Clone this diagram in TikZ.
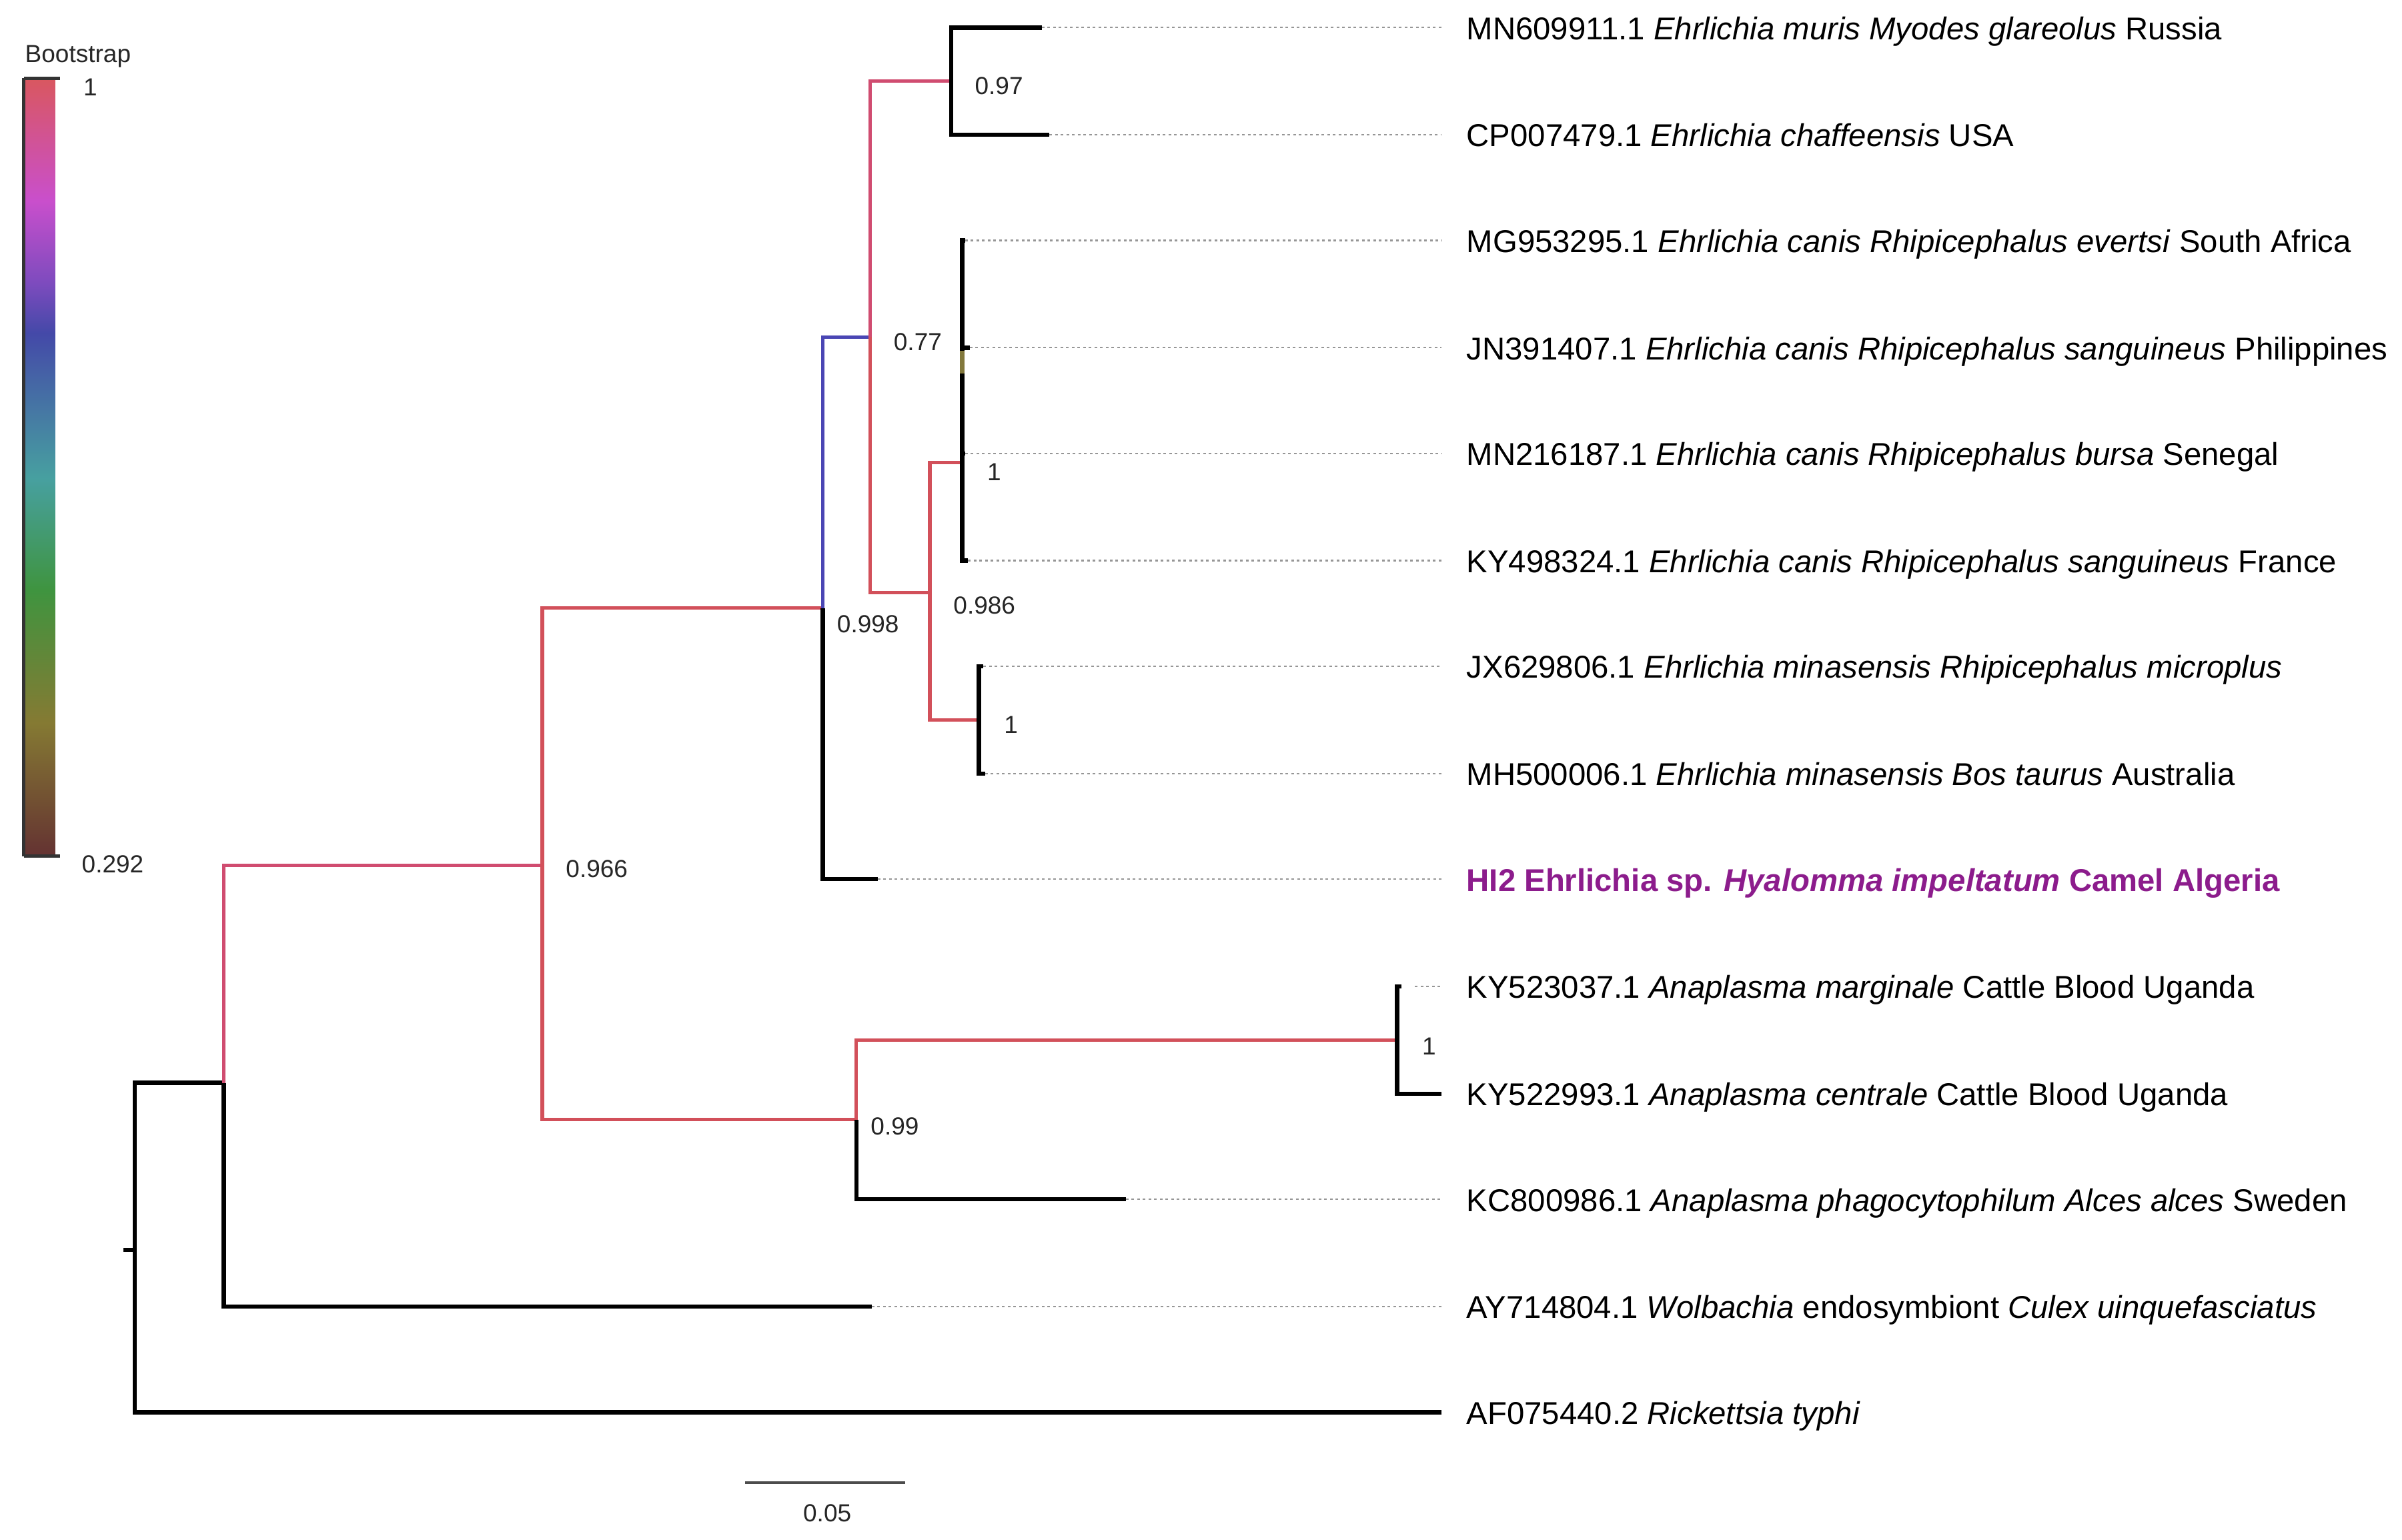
\documentclass[tikz,border=0pt]{standalone}
\usepackage{fontspec}
\setmainfont{Liberation Sans}
\definecolor{brRed}{RGB}{210,80,90}
\definecolor{brPink}{RGB}{208,76,112}
\definecolor{brBlue}{RGB}{74,70,180}
\definecolor{brOlive}{RGB}{130,120,60}
\definecolor{hiPurple}{RGB}{140,28,140}
\definecolor{dotGray}{RGB}{150,150,150}
\definecolor{cbRed}{RGB}{217,87,95}
\definecolor{cbMagenta}{RGB}{201,79,204}
\definecolor{cbPurple}{RGB}{125,75,190}
\definecolor{cbBlue}{RGB}{68,73,168}
\definecolor{cbTeal}{RGB}{71,160,160}
\definecolor{cbGreen}{RGB}{63,148,63}
\definecolor{cbOlive}{RGB}{133,122,51}
\definecolor{cbBrown}{RGB}{100,50,50}
\pgfdeclareverticalshading{bootshade}{100bp}{color(0bp)=(cbBrown); color(25bp)=(cbBrown); color(33.6bp)=(cbOlive); color(42.1bp)=(cbGreen); color(49.3bp)=(cbTeal); color(58.6bp)=(cbBlue); color(61.8bp)=(cbPurple); color(67.1bp)=(cbMagenta); color(75bp)=(cbRed); color(100bp)=(cbRed)}
\begin{document}
\begin{tikzpicture}[x=0.45932pt,y=-0.45932pt,
  blk/.style={line width=1.3pt, draw=black, line join=miter},
  redbr/.style={line width=1.05pt, draw=brRed, line join=miter},
  pinkbr/.style={line width=1.05pt, draw=brPink, line join=miter},
  bluebr/.style={line width=1.05pt, draw=brBlue, line join=miter},
  dotline/.style={line width=0.45pt, draw=dotGray, dash pattern=on 0.8pt off 0.9pt},
  leaflab/.style={anchor=west, inner sep=0pt, font=\fontsize{9.46}{11}\selectfont, text height=0.716em, text depth=0pt},
  bslab/.style={anchor=west, inner sep=0pt, font=\fontsize{7.4}{9}\selectfont, text height=0.716em, text depth=0pt, text=black!85}]
\useasboundingbox (0,0) rectangle (1568,1005);
\fill[white] (0,0) rectangle (1568,1005);

% colour bar
\shade[shading=bootshade] (15.5,51) rectangle (36,559);
\draw[line width=1pt, black!80] (15.5,51) -- (15.5,559);
\coordinate (cbtop) at (15.5,51);
\coordinate (cbbot) at (15.5,559);
\coordinate (cbtopend) at (39,51);
\coordinate (cbbotend) at (39,559);
\draw[line width=1pt, black!80] (cbtop) -- (cbtopend);
\draw[line width=1pt, black!80] (cbbot) -- (cbbotend);
\node[bslab] (bstitle) at (16,33) {Bootstrap};
\node[bslab] (bsone) at (54,54.5) {1};
\node[bslab] (bslow) at (53,562) {0.292};

% tree nodes
\coordinate (stub) at (80.5,816);
\coordinate (root) at (88,816);
\coordinate (nA) at (146,707);
\coordinate (nB) at (354,565);
\coordinate (nC) at (537,397);
\coordinate (nD) at (568,220);
\coordinate (nE) at (621,53);
\coordinate (nF) at (607,387);
\coordinate (nG) at (628,302);
\coordinate (nH) at (639,470);
\coordinate (nI) at (559,731);
\coordinate (nJ) at (912,679);
% leaf tips
\coordinate (t1) at (680,18);
\coordinate (t2) at (685,88);
\coordinate (t3) at (630,157);
\coordinate (t4) at (633,227);
\coordinate (t5) at (630,296);
\coordinate (t6) at (632,366);
\coordinate (t7) at (642,435);
\coordinate (t8) at (643,505);
\coordinate (t9) at (573,574);
\coordinate (t10) at (915,644);
\coordinate (t11) at (941,714);
\coordinate (t12) at (735,783);
\coordinate (t13) at (569,853);
\coordinate (t14) at (941,922);
\coordinate (dend) at (941,0);

% branches
\draw[blk] (stub) -- (root);
\draw[blk] (root) |- (nA);
\draw[blk] (root) |- (t14);
\draw[pinkbr] (nA) |- (nB);
\draw[blk] (nA) |- (t13);
\draw[redbr] (nB) |- (nC);
\draw[redbr] (nB) |- (nI);
\draw[bluebr] (nC) |- (nD);
\draw[blk] (nC) |- (t9);
\draw[pinkbr] (nD) |- (nE);
\draw[redbr] (nD) |- (nF);
\draw[blk] (nE) |- (t1);
\draw[blk] (nE) |- (t2);
\draw[redbr] (nF) |- (nG);
\draw[redbr] (nF) |- (nH);
\draw[blk] (nG) |- (t3);
\draw[blk] (nG) |- (t4);
\draw[blk] (nG) |- (t5);
\draw[blk] (nG) |- (t6);
\draw[line width=1.3pt, brOlive] (628,229) -- (628,244);
\draw[blk] (nH) |- (t7);
\draw[blk] (nH) |- (t8);
\draw[redbr] (nI) |- (nJ);
\draw[blk] (nI) |- (t12);
\draw[blk] (nJ) |- (t10);
\draw[blk] (nJ) |- (t11);

% dotted extensions
\foreach \t in {t1,t2,t3,t4,t5,t6,t7,t8,t9,t12,t13}
  \draw[dotline] (\t) -- (\t -| dend);
\draw[dotline] ([xshift=4pt]t10) -- (t10 -| dend);

% leaf labels
\node[leaflab] (L1) at (957,18) {MN609911.1 \textit{Ehrlichia muris Myodes glareolus} Russia};
\node[leaflab] (L2) at (957,88) {CP007479.1 \textit{Ehrlichia chaffeensis} USA};
\node[leaflab] (L3) at (957,157) {MG953295.1 \textit{Ehrlichia canis Rhipicephalus evertsi} South Africa};
\node[leaflab] (L4) at (957,227) {JN391407.1 \textit{Ehrlichia canis Rhipicephalus sanguineus} Philippines};
\node[leaflab] (L5) at (957,296) {MN216187.1 \textit{Ehrlichia canis Rhipicephalus bursa} Senegal};
\node[leaflab] (L6) at (957,366) {KY498324.1 \textit{Ehrlichia canis Rhipicephalus sanguineus} France};
\node[leaflab] (L7) at (957,435) {JX629806.1 \textit{Ehrlichia minasensis Rhipicephalus microplus}};
\node[leaflab] (L8) at (957,505) {MH500006.1 \textit{Ehrlichia minasensis Bos taurus} Australia};
\node[leaflab, text=hiPurple, font=\fontsize{9.46}{11}\selectfont\bfseries] (L9) at (957,574) {HI2 Ehrlichia sp. \textit{Hyalomma impeltatum} Camel Algeria};
\node[leaflab] (L10) at (957,644) {KY523037.1 \textit{Anaplasma marginale} Cattle Blood Uganda};
\node[leaflab] (L11) at (957,714) {KY522993.1 \textit{Anaplasma centrale} Cattle Blood Uganda};
\node[leaflab] (L12) at (957,783) {KC800986.1 \textit{Anaplasma phagocytophilum Alces alces} Sweden};
\node[leaflab] (L13) at (957,853) {AY714804.1 \textit{Wolbachia} endosymbiont \textit{Culex uinquefasciatus}};
\node[leaflab] (L14) at (957,922) {AF075440.2 \textit{Rickettsia typhi}};

% bootstrap values
\node[bslab] (bB) at (369,565) {0.966};
\node[bslab] (bC) at (546,405) {0.998};
\node[bslab] (bD) at (583,221) {0.77};
\node[bslab] (bE) at (636,54) {0.97};
\node[bslab] (bG) at (644,306) {1};
\node[bslab] (bF) at (622,393) {0.986};
\node[bslab] (bH) at (655,471) {1};
\node[bslab] (bI) at (568,733) {0.99};
\node[bslab] (bJ) at (928,681) {1};

% scale bar
\coordinate (sb1) at (486.5,968);
\coordinate (sb2) at (591,968);
\draw[line width=0.9pt, black!70] (sb1) -- (sb2);
\node[font=\fontsize{7.4}{9}\selectfont, inner sep=0pt, text=black!85] (sblab) at (540,988) {0.05};
\end{tikzpicture}
\end{document}
